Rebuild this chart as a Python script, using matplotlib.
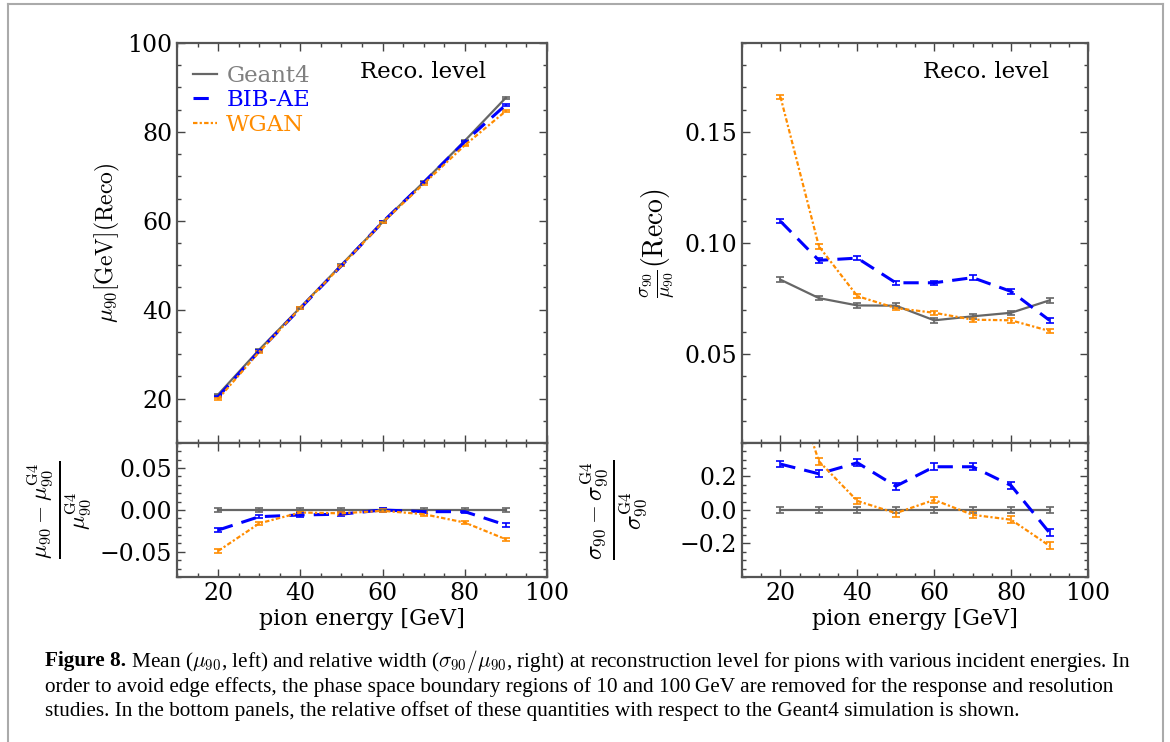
import numpy as np
import matplotlib
matplotlib.use("Agg")
import matplotlib.pyplot as plt
from matplotlib.ticker import AutoMinorLocator
from matplotlib.lines import Line2D

plt.rcParams['font.family'] = 'DejaVu Serif'
plt.rcParams['mathtext.fontset'] = 'cm'

energy = [20, 30, 40, 50, 60, 70, 80, 90]

# mean response mu90 [GeV]
mu_g4 = [20.9, 31.0, 40.5, 50.1, 59.7, 68.7, 78.0, 87.7]
mu_bib = [20.4, 30.7, 40.3, 49.9, 59.7, 68.6, 77.8, 86.1]
mu_wgan = [19.9, 30.5, 40.4, 49.9, 59.6, 68.3, 77.0, 84.7]
mu_err = [0.15, 0.15, 0.15, 0.15, 0.15, 0.15, 0.15, 0.2]

# relative offset of mu90 w.r.t. Geant4
dmu_g4 = [0, 0, 0, 0, 0, 0, 0, 0]
dmu_bib = [-0.024, -0.008, -0.006, -0.005, 0.000, -0.002, -0.002, -0.018]
dmu_wgan = [-0.049, -0.016, -0.003, -0.004, -0.001, -0.005, -0.015, -0.035]
dmu_err = [0.002, 0.002, 0.002, 0.002, 0.002, 0.002, 0.002, 0.002]

# resolution sigma90/mu90
res_g4 = [0.0835, 0.0752, 0.0719, 0.0718, 0.0652, 0.0670, 0.0686, 0.0742]
res_bib = [0.1098, 0.0922, 0.0932, 0.0821, 0.0821, 0.0844, 0.0782, 0.0652]
res_wgan = [0.1658, 0.0985, 0.0761, 0.0707, 0.0686, 0.0655, 0.0652, 0.0604]
res_err = [0.001, 0.001, 0.001, 0.001, 0.001, 0.001, 0.001, 0.001]

# relative offset of sigma90 w.r.t. Geant4
dres_g4 = [0, 0, 0, 0, 0, 0, 0, 0]
dres_bib = [0.274, 0.216, 0.282, 0.142, 0.258, 0.258, 0.146, -0.136]
dres_wgan = [0.985, 0.291, 0.054, -0.019, 0.060, -0.029, -0.058, -0.214]
dres_err = [0.02, 0.02, 0.02, 0.02, 0.02, 0.02, 0.02, 0.02]

c_g4, c_bib, c_wgan = '#666666', 'blue', '#ff8c00'
ls_g4, ls_bib, ls_wgan = '-', (0, (5, 3)), (0, (2, 1, 1, 1))

fig = plt.figure(figsize=(11.7, 7.42), dpi=100)

axes = {
    'lt': fig.add_axes([0.1513, 0.403, 0.3162, 0.539]),
    'lb': fig.add_axes([0.1513, 0.2224, 0.3162, 0.1806]),
    'rt': fig.add_axes([0.6342, 0.403, 0.2957, 0.539]),
    'rb': fig.add_axes([0.6342, 0.2224, 0.2957, 0.1806]),
}


def draw(ax, g4, bib, wgan, err):
    ax.errorbar(energy, g4, yerr=err, color=c_g4, ls=ls_g4, lw=1.6, capsize=3, elinewidth=1.2, capthick=1.2)
    ax.errorbar(energy, bib, yerr=err, color=c_bib, ls=ls_bib, lw=2.2, capsize=3, elinewidth=1.2, capthick=1.2)
    ax.errorbar(energy, wgan, yerr=err, color=c_wgan, ls=ls_wgan, lw=1.6, capsize=3, elinewidth=1.2, capthick=1.2)


draw(axes['lt'], mu_g4, mu_bib, mu_wgan, mu_err)
draw(axes['lb'], dmu_g4, dmu_bib, dmu_wgan, dmu_err)
draw(axes['rt'], res_g4, res_bib, res_wgan, res_err)
draw(axes['rb'], dres_g4, dres_bib, dres_wgan, dres_err)

for key, ax in axes.items():
    ax.set_xlim(10, 100)
    ax.set_xticks([20, 40, 60, 80, 100])
    ax.xaxis.set_minor_locator(AutoMinorLocator(4))
    ax.yaxis.set_minor_locator(AutoMinorLocator())
    ax.tick_params(which='both', direction='in', top=True, right=True, colors='#444444',
                   labelcolor='black', labelsize=17)
    ax.tick_params(which='major', length=6, width=1)
    ax.tick_params(which='minor', length=3, width=1)
    for sp in ax.spines.values():
        sp.set_color('#555555')
        sp.set_linewidth(1.6)
    if key.endswith('t'):
        ax.tick_params(labelbottom=False)
    else:
        ax.set_xlabel('pion energy [GeV]', fontsize=16, labelpad=2)

axes['lt'].set_ylim(10, 100)
axes['lt'].set_yticks([20, 40, 60, 80, 100])
axes['lb'].set_ylim(-0.08, 0.08)
axes['lb'].set_yticks([-0.05, 0.0, 0.05])
axes['rt'].set_ylim(0.01, 0.19)
axes['rt'].set_yticks([0.05, 0.10, 0.15])
axes['rb'].set_ylim(-0.4, 0.4)
axes['rb'].set_yticks([-0.2, 0.0, 0.2])

axes['lt'].set_ylabel(r'$\mu_{90}[\mathrm{GeV}](\mathrm{Reco})$', fontsize=17)
axes['lt'].yaxis.set_label_coords(-0.150, 0.5)
axes['lb'].set_ylabel(r'$\frac{\mu_{90}-\mu_{90}^{\mathrm{G4}}}{\mu_{90}^{\mathrm{G4}}}$', fontsize=24)
axes['lb'].yaxis.set_label_coords(-0.227, 0.5)
axes['rt'].set_ylabel(r'$\frac{\sigma_{90}}{\mu_{90}}(\mathrm{Reco})$', fontsize=20)
axes['rt'].yaxis.set_label_coords(-0.185, 0.5)
axes['rb'].set_ylabel(r'$\frac{\sigma_{90}-\sigma_{90}^{\mathrm{G4}}}{\sigma_{90}^{\mathrm{G4}}}$', fontsize=25)
axes['rb'].yaxis.set_label_coords(-0.266, 0.5)

axes['lt'].text(0.665, 0.9275, 'Reco. level', transform=axes['lt'].transAxes,
                ha='center', va='center', fontsize=16.5)
axes['rt'].text(0.705, 0.9275, 'Reco. level', transform=axes['rt'].transAxes,
                ha='center', va='center', fontsize=16.5)

handles = [Line2D([], [], color=c_g4, ls=ls_g4, lw=1.6),
           Line2D([], [], color=c_bib, ls=ls_bib, lw=2.2),
           Line2D([], [], color=c_wgan, ls=ls_wgan, lw=1.6)]
leg = axes['lt'].legend(handles, ['Geant4', 'BIB-AE', 'WGAN'], loc='upper left', frameon=False,
                        fontsize=16.5, handlelength=1.05, handletextpad=0.4, labelspacing=0.1,
                        borderaxespad=0.3, bbox_to_anchor=(0.0, 0.985))
for txt, col in zip(leg.get_texts(), ['#808080', 'blue', '#ff8c00']):
    txt.set_color(col)

# figure border
fig.add_artist(Line2D([0.0068, 0.994], [0.9946, 0.9946], color='#aaaaaa', lw=1.5))
fig.add_artist(Line2D([0.0068, 0.0068], [0.0, 0.9946], color='#aaaaaa', lw=1.5))
fig.add_artist(Line2D([0.994, 0.994], [0.0, 0.9946], color='#aaaaaa', lw=1.5))

# caption
cap_font = dict(family='Liberation Serif', fontsize=15.3, va='center')
rend = fig.canvas.get_renderer()
bold = fig.text(0.0385, 0.109, 'Figure 8.', fontweight='bold', **cap_font)
bb = bold.get_window_extent(rend)
fig.text(bb.x1 / fig.bbox.width, 0.109,
         r' Mean ($\mu_{90}$, left) and relative width ($\sigma_{90}/\mu_{90}$, right) at reconstruction '
         r'level for pions with various incident energies. In', **cap_font)
fig.text(0.0385, 0.074, 'order to avoid edge effects, the phase space boundary regions of 10 and 100\u2009GeV '
         'are removed for the response and resolution', **cap_font)
fig.text(0.0385, 0.042, 'studies. In the bottom panels, the relative offset of these quantities with respect '
         'to the Geant4 simulation is shown.', **cap_font)

fig.savefig('out.png', dpi=100)
